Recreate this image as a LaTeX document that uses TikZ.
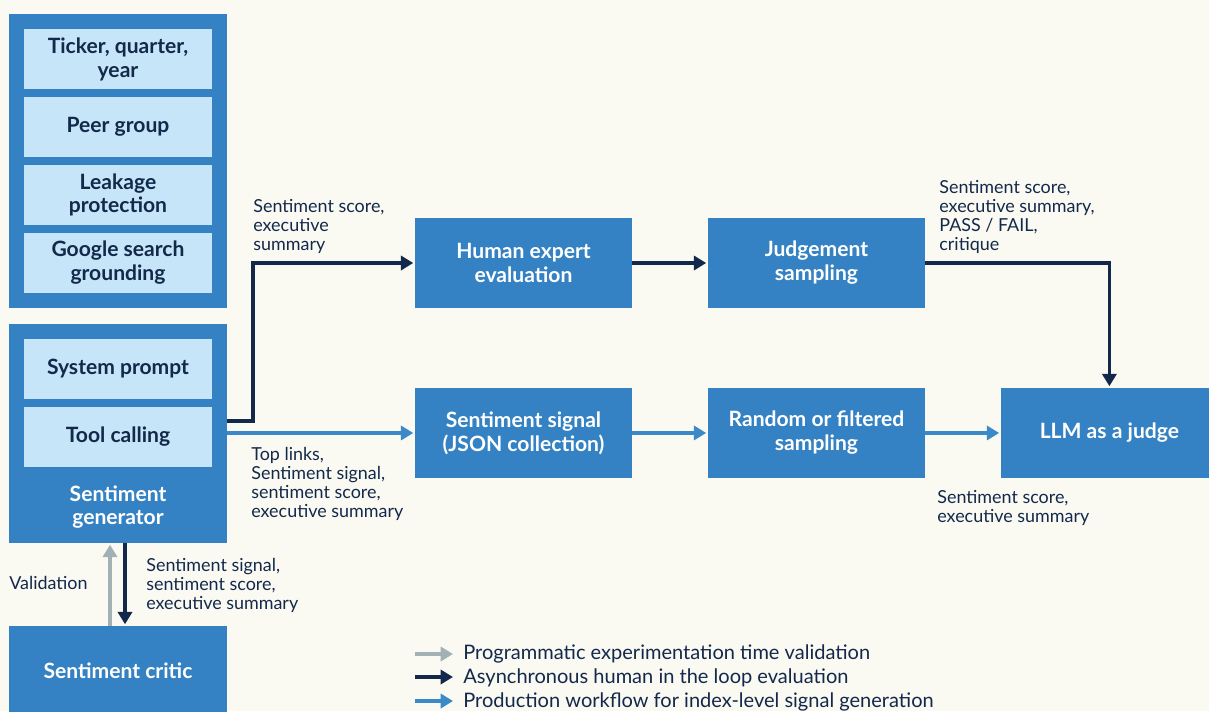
\documentclass[tikz,border=0pt]{standalone}
\usepackage{fontspec}
\setmainfont{Lato}
\usetikzlibrary{positioning,arrows.meta}

\definecolor{bgcream}{HTML}{FAF9F2}
\definecolor{boxblue}{HTML}{3482C3}
\definecolor{paleblue}{HTML}{C7E5F8}
\definecolor{navy}{HTML}{13294B}
\definecolor{flowblue}{HTML}{3B89C9}
\definecolor{valgray}{HTML}{A2B1B4}

\begin{document}
\begin{tikzpicture}[
    x=0.02cm, y=-0.02cm,
    node distance=1.36cm,
    box/.style={rectangle, fill=boxblue, text=white, align=center, font=\fontsize{12}{13.6}\selectfont\bfseries, minimum width=4.34cm, minimum height=1.8cm, inner sep=0pt, outer sep=0pt},
    panel/.style={rectangle, fill=boxblue, minimum width=4.36cm, inner sep=0pt, outer sep=0pt},
    item/.style={rectangle, fill=paleblue, text=navy, align=center, font=\fontsize{12}{13.6}\selectfont\bfseries, minimum width=3.76cm, minimum height=1.2cm, inner sep=0pt, outer sep=0pt},
    note/.style={anchor=north west, align=left, text=navy, font=\fontsize{10.2}{10.8}\selectfont, inner sep=0pt},
    legtext/.style={anchor=base west, text=navy, font=\fontsize{11.4}{12}\selectfont, inner sep=0pt},
    arrow/.style={-{Triangle[length=7pt,width=8pt]}, line width=2pt, shorten >=1pt},
    hitl/.style={arrow, draw=navy},
    prod/.style={arrow, draw=flowblue},
    check/.style={arrow, draw=valgray}
]

\fill[bgcream] (0,0) rectangle (1209,711);
\useasboundingbox (0,0) rectangle (1209,711);

% inputs
\node[panel, minimum height=5.88cm] (ctx) at (118,161) {};
\node[item] (ticker) at (118,59) {Ticker, quarter,\\year};
\node[item, below of=ticker] (peer) {Peer group};
\node[item, below of=peer] (leak) {Leakage\\protection};
\node[item, below of=leak] (google) {Google search\\grounding};

% generator
\node[panel, minimum height=4.38cm] (gen) at (118,433.5) {};
\node[item] (sysprompt) at (118,369) {System prompt};
\node[item, below of=sysprompt] (tools) {Tool calling};
\node[box, fill=none, minimum height=1cm] (gentext) at (118,507) {Sentiment\\generator};

\node[box, minimum width=4.36cm] (critic) at (118,671) {Sentiment critic};

% evaluation
\node[box] (expert) at (523.5,263) {Human expert\\evaluation};
\node[box, right of=expert, node distance=5.86cm] (judging) {Judgement\\sampling};
\node[box, below of=expert, node distance=3.4cm] (signal) {Sentiment signal\\(JSON collection)};
\node[box, right of=signal, node distance=5.86cm] (sampling) {Random or filtered\\sampling};
\node[box, right of=sampling, node distance=5.86cm] (llm) {LLM as a judge};

\draw[hitl] ([yshift=0.25cm]gen.east) -- ++(0.52cm,0) |- (expert.west);
\draw[prod] (gen.east |- signal.west) -- (signal.west);
\draw[hitl] (expert) -- (judging);
\draw[prod] (signal) -- (sampling);
\draw[prod] (sampling) -- (llm);
\draw[hitl] (judging.east) -| (llm.north);
\draw[check] ([xshift=-0.16cm]critic.north) -- ([xshift=-0.16cm]gen.south);
\draw[hitl] ([xshift=0.14cm]gen.south) -- ([xshift=0.14cm]critic.north);

% labels
\node[note] (toexpert) at (253,199) {Sentiment score,\\executive\\summary};
\node[note] (tosignal) at (251,447) {Top links,\\Sentiment signal,\\sentiment score,\\executive summary};
\node[note] (tollm) at (939,180) {Sentiment score,\\executive summary,\\PASS / FAIL,\\critique};
\node[note] (fromllm) at (937,490) {Sentiment score,\\executive summary};
\node[note] (tocritic) at (146,558) {Sentiment signal,\\sentiment score,\\executive summary};
\node[note] (validation) at (9,576) {Validation};

% legend
\coordinate (legA) at (415,654);
\coordinate (legB) at (415,677);
\coordinate (legC) at (415,701);
\node[legtext] (legcheck) at (463,659) {Programmatic experimentation time validation};
\node[legtext] (leghitl) at (463,683) {Asynchronous human in the loop evaluation};
\node[legtext] (legprod) at (463,707) {Production workflow for index-level signal generation};
\draw[check, shorten >=0.2cm] (legA) -- (legA -| legcheck.west);
\draw[hitl, shorten >=0.2cm] (legB) -- (legB -| leghitl.west);
\draw[prod, shorten >=0.2cm] (legC) -- (legC -| legprod.west);

\end{tikzpicture}
\end{document}
